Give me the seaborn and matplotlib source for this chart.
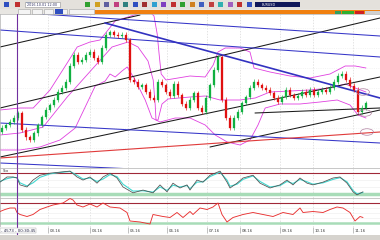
import matplotlib
matplotlib.use("Agg")
import matplotlib.pyplot as plt
from matplotlib.patches import Rectangle, Ellipse
import pandas as pd
import seaborn as sns

sns.set_style("white")
plt.rcParams['font.family'] = ['DejaVu Sans']

# ---------------- data ----------------
first_open = 1.036
closes = [1.040, 1.043, 1.046, 1.050, 1.055, 1.038, 1.031, 1.028, 1.035, 1.043,
          1.051, 1.058, 1.063, 1.068, 1.076, 1.080, 1.086, 1.102, 1.113, 1.106,
          1.108, 1.113, 1.116, 1.110, 1.106, 1.120, 1.133, 1.136, 1.133, 1.132,
          1.133, 1.128, 1.088, 1.086, 1.081, 1.083, 1.076, 1.070, 1.068, 1.086,
          1.083, 1.076, 1.072, 1.084, 1.073, 1.064, 1.060, 1.068, 1.075, 1.060,
          1.056, 1.070, 1.083, 1.098, 1.111, 1.068, 1.050, 1.040, 1.050, 1.056,
          1.065, 1.071, 1.080, 1.086, 1.083, 1.080, 1.078, 1.075, 1.070, 1.066,
          1.071, 1.078, 1.073, 1.070, 1.072, 1.076, 1.073, 1.078, 1.073, 1.076,
          1.078, 1.076, 1.080, 1.086, 1.092, 1.094, 1.088, 1.082, 1.078, 1.056,
          1.060, 1.065]

upper_days = [-0.5, 4.5, 7.8, 12, 16.3, 18.8, 22, 24.5, 28.3, 31.5, 34.5, 37, 38, 38.8,
              39.3, 39.8, 41, 47, 50.8, 52.8, 54, 55.8, 59.5, 62, 63, 67, 72, 77, 82,
              85.8, 88.3, 91]
upper_vals = [1.058, 1.060, 1.060, 1.078, 1.105, 1.121, 1.126, 1.128, 1.147, 1.151, 1.155,
              1.156, 1.152, 1.134, 1.113, 1.094, 1.088, 1.092, 1.091, 1.103, 1.116, 1.120,
              1.120, 1.116, 1.100, 1.096, 1.092, 1.090, 1.094, 1.102, 1.102, 1.100]

mid_days = [-0.5, 4.5, 10.3, 16.3, 22.8, 27.5, 31.5, 34, 36.5, 37.8, 38.3, 38.5, 39, 40,
            41.5, 47, 50.8, 54.5, 59.5, 63.3, 67, 72, 77, 82, 85.8, 88.3, 91]
mid_vals = [1.033, 1.035, 1.041, 1.071, 1.100, 1.121, 1.126, 1.121, 1.107, 1.088, 1.063,
            1.048, 1.048, 1.064, 1.069, 1.071, 1.072, 1.068, 1.068, 1.070, 1.076, 1.077,
            1.078, 1.080, 1.084, 1.080, 1.076]

lower_days = [-0.5, 4.5, 9.5, 14.5, 18.3, 23.3, 25.8, 27, 28.3, 30, 31.3, 33.3, 35.8, 37.5,
              39.5, 43.3, 47, 50.8, 53.3, 56.3, 59.5, 62, 64, 65.8, 69.5, 74.5, 79.5, 83.8,
              87, 89, 91]
lower_vals = [1.018, 1.018, 1.021, 1.028, 1.040, 1.082, 1.087, 1.094, 1.091, 1.097, 1.101,
              1.088, 1.068, 1.050, 1.046, 1.050, 1.050, 1.043, 1.033, 1.026, 1.023, 1.028,
              1.043, 1.060, 1.064, 1.064, 1.066, 1.068, 1.063, 1.053, 1.050]

# trend lines: (day0, price0, day1, price1)
black_lines = [(-0.5, 1.121, 34.5, 1.153),
               (-0.5, 1.060, 94.5, 1.150),
               (-0.5, 1.011, 94.5, 1.091),
               (63.25, 1.055, 94.5, 1.060),
               (52, 1.021, 94.5, 1.058)]
blue_lines = [(9.5, 1.154, 94.5, 1.132),
              (-0.5, 1.138, 94.5, 1.111),
              (-0.5, 1.045, 94.5, 1.025),
              (-0.5, 1.005, 94.5, 0.988)]
blue_thick_line = (25.75, 1.145, 94.5, 1.070)
red_line = (-0.5, 1.010, 94.5, 1.036)
marked_points = [(90.25, 1.076), (90.75, 1.055), (91.25, 1.036)]
cursor_day = 3.75

stoch_days = [-0.5, 1.25, 2.75, 3.75, 4.5, 6.25, 7.75, 9.5, 12, 14.5, 17, 18.75, 20.25, 22,
              23.75, 25.25, 27, 28.75, 30.25, 32.75, 35.25, 37.75, 39.5, 41.25, 42.75, 44.5,
              46.25, 47, 48.75, 50.25, 52, 54.5, 56.25, 57, 58.75, 60.25, 62.75, 64.5, 67,
              69.5, 71.25, 72.75, 74.5, 76.25, 77.75, 80.25, 82.75, 84.5, 86.25, 87.75,
              88.75, 90.25]
stoch_main = [54, 69, 69, 66, 46, 40, 60, 74, 80, 83, 86, 69, 60, 69, 51, 69, 80, 66, 40, 23,
              31, 23, 46, 26, 51, 37, 46, 31, 60, 54, 74, 86, 54, 37, 51, 66, 74, 51, 37, 46,
              60, 46, 66, 51, 46, 54, 66, 69, 51, 26, 17, 26]
stoch_signal = [56, 64, 68, 67, 52, 43, 52, 68, 78, 82, 85, 74, 63, 66, 56, 63, 76, 70, 48, 28,
                29, 25, 40, 30, 45, 40, 44, 35, 54, 55, 70, 83, 60, 42, 48, 62, 72, 56, 40, 44,
                56, 50, 62, 55, 48, 52, 62, 67, 55, 30, 20, 24]

osc2_days = [-0.5, 0.75, 2, 3.25, 3.75, 4.5, 6.25, 7.75, 9.5, 11.25, 12.75, 15.25, 17, 17.75,
             18.75, 20.25, 22, 23.75, 25.25, 27, 29.5, 31.25, 32, 34.5, 37, 37.75, 40.25, 42,
             43.75, 45.25, 47, 47.75, 49.5, 51.25, 52.75, 54, 55, 56.25, 57.75, 60.25, 62.75,
             65.25, 67.75, 70.25, 72.75, 74.5, 75.25, 77.75, 80.25, 82, 83.75, 85.25, 87,
             88.25, 89.5, 90.25]
osc2_vals = [53, 57, 60, 60, 51, 47, 43, 47, 57, 62, 66, 70, 79, 76, 66, 62, 68, 62, 70, 62,
             60, 51, 34, 32, 28, 47, 43, 41, 51, 41, 53, 47, 60, 57, 62, 70, 47, 32, 41, 47,
             51, 47, 43, 51, 47, 60, 51, 53, 51, 57, 62, 60, 51, 34, 43, 41]

month_days = [11.5, 22, 31.5, 41.25, 51.25, 59.5, 69.5, 77.75, 87.75]
month_labels = ["03.16", "04.16", "05.16", "06.16", "07.16", "08.16", "09.16", "10.16", "11.16"]

# ---------------- figure ----------------
W, H = 380, 240
fig = plt.figure(figsize=(3.8, 2.4), dpi=100, facecolor='#d6d3ce')


def ax_at(y0, y1):
    ax = fig.add_axes([0, 1 - y1 / H, 1, (y1 - y0) / H])
    ax.set_facecolor('white')
    ax.set_xlim(-0.5, 94.5)
    ax.set_xticks([])
    ax.set_yticks([])
    for s in ax.spines.values():
        s.set_color('#b0b0b0')
        s.set_linewidth(0.5)
    for d in month_days:
        ax.axvline(d, color='#d8d8d8', lw=0.5, ls=(0, (2, 2)), zorder=0)
    ax.axvline(cursor_day, color='#7030a0', lw=0.8, zorder=5)
    return ax


def frect(x, y, w, h, color, **kw):
    fig.add_artist(Rectangle((x / W, 1 - (y + h) / H), w / W, h / H,
                             transform=fig.transFigure, facecolor=color,
                             edgecolor=kw.pop('ec', 'none'), lw=0.4, **kw))


# toolbar
frect(0, 0, 380, 9, '#e4e1dc')
icon_cols = ['#3050c0', '#c03030', '#4070d0', '#30a030', '#d0a020', '#6060a0', '#c04080',
             '#308080', '#3050c0', '#a03030', '#30a0d0', '#8040c0', '#c03030', '#30a030',
             '#d08020', '#4060c0', '#c04040', '#30b0b0', '#a060c0', '#c03030', '#3050c0']
for i, c in enumerate(icon_cols):
    frect(4 + i * 11 if i < 3 else 85 + (i - 3) * 9.5, 2.5, 5, 4, c)
frect(25, 2, 35, 5, 'white', ec='#909090')
fig.text(27 / W, 1 - 4.6 / H, "2016.10.01 12:00", fontsize=2.4, color='#303060', va='center')
frect(255, 2, 45, 5, '#10185a')
fig.text(262 / W, 1 - 4.6 / H, "EURUSD", fontsize=2.4, color='white', va='center')
# tab bar
frect(0, 9, 380, 5, '#e8e6e2')
for x0, w in [(18, 12), (32, 10), (44, 9), (55, 12), (69, 25)]:
    frect(x0, 9.5, w, 4, '#f4f4f4', ec='#a0a0a0')
frect(55, 9.5, 8, 4, '#3050c0')
frect(95, 10, 285, 4, '#f08010')
frect(335, 10.5, 6, 3, '#30a060')
frect(342, 10.5, 12, 3, '#30b030')
frect(355, 10.5, 9, 3, '#d02020')
frect(365, 10.5, 15, 3, '#d0d0d0')
# bottom bar
frect(0, 235, 380, 5, '#d6d3ce')

# ---------------- main chart ----------------
ax = ax_at(14, 168)
ax.set_ylim(1.000, 1.154)
for lv in [1.02, 1.04, 1.06, 1.08, 1.10, 1.12, 1.14]:
    ax.axhline(lv, color='#ececec', lw=0.4, ls=(0, (2, 2)), zorder=0)

opens = [first_open] + closes[:-1]
days = list(range(len(closes)))
cdf = pd.DataFrame({'day': days, 'open': opens, 'close': closes})
cdf['up'] = cdf['close'] >= cdf['open']
cdf['lo'] = cdf[['open', 'close']].min(axis=1)
cdf['hi'] = cdf[['open', 'close']].max(axis=1)
wick = 0.0025
for up, col in [(True, '#10b040'), (False, '#e01010')]:
    sub = cdf[cdf['up'] == up]
    ax.vlines(sub['day'], sub['lo'] - wick, sub['hi'] + wick, color=col, lw=0.45, zorder=3)
    ax.bar(sub['day'], (sub['hi'] - sub['lo']).clip(lower=0.0008), bottom=sub['lo'],
           width=0.48, color=col, edgecolor=col, lw=0.2, zorder=4)

band_col = '#e040e0'
for dd, vv in [(upper_days, upper_vals), (mid_days, mid_vals), (lower_days, lower_vals)]:
    sns.lineplot(x=dd, y=vv, ax=ax, color=band_col, lw=0.6, sort=False, estimator=None, zorder=2)

for (d0, p0, d1, p1) in black_lines:
    sns.lineplot(x=[d0, d1], y=[p0, p1], ax=ax, color='#1a1a1a', lw=0.75, zorder=2)
for (d0, p0, d1, p1) in blue_lines:
    sns.lineplot(x=[d0, d1], y=[p0, p1], ax=ax, color='#3636c8', lw=0.75, zorder=2)
d0, p0, d1, p1 = blue_thick_line
sns.lineplot(x=[d0, d1], y=[p0, p1], ax=ax, color='#3232c0', lw=1.2, zorder=2)
d0, p0, d1, p1 = red_line
sns.lineplot(x=[d0, d1], y=[p0, p1], ax=ax, color='#e03a3a', lw=0.8, zorder=2)
for (dx, py) in marked_points:
    ax.add_patch(Ellipse((dx, py), 3.2, 0.0065, fill=False, edgecolor='#b080a0', lw=0.5, zorder=6))
ax.set_xlim(-0.5, 94.5)
ax.set_xlabel(''); ax.set_ylabel('')

# ---------------- oscillator 1 ----------------
ax1 = ax_at(168, 198)
ax1.set_ylim(8, 95)
ax1.axhline(20, color='#a8dcb8', lw=2.5, zorder=1)
ax1.axhline(80, color='#a02838', lw=0.8, zorder=1)
for lv in [40, 60]:
    ax1.axhline(lv, color='#ececec', lw=0.4, zorder=0)
sns.lineplot(x=stoch_days, y=stoch_signal, ax=ax1, color='#40d8d0', lw=0.8, zorder=3)
sns.lineplot(x=stoch_days, y=stoch_main, ax=ax1, color='#505050', lw=0.55, zorder=4)
ax1.set_xlim(-0.5, 94.5)
ax1.set_xlabel(''); ax1.set_ylabel('')
ax1.text(0.3, 92, "Sto", fontsize=2.6, color='#404040', va='top')

# ---------------- oscillator 2 ----------------
ax2 = ax_at(198, 227)
ax2.set_ylim(22, 80)
ax2.axhline(30, color='#a8dcb8', lw=1.8, zorder=1)
ax2.axhline(70, color='#a02838', lw=0.8, zorder=1)
for lv in [40, 50, 60]:
    ax2.axhline(lv, color='#ececec', lw=0.4, zorder=0)
sns.lineplot(x=osc2_days, y=osc2_vals, ax=ax2, color='#e83030', lw=0.65, zorder=3)
ax2.set_xlim(-0.5, 94.5)
ax2.set_xlabel(''); ax2.set_ylabel('')

# ---------------- time axis ----------------
axt = fig.add_axes([0, 1 - 235 / H, 1, 8 / H])
axt.set_facecolor('white')
axt.set_xlim(-0.5, 94.5)
axt.set_ylim(0, 1)
axt.set_xticks([]); axt.set_yticks([])
for s in axt.spines.values():
    s.set_visible(False)
for d, lab in zip(month_days, month_labels):
    axt.vlines(d, 0.25, 0.95, color='#909090', lw=0.4)
    axt.text(d + 0.4, 0.55, lab, fontsize=2.8, color='#404040', va='center', ha='left')
axt.axvline(cursor_day, color='#7030a0', lw=0.8)
axt.text(-0.3, 0.55, "- 4573 - 00:30:45", fontsize=2.9, color='#202040', va='center',
         ha='left', bbox=dict(facecolor='white', edgecolor='#a0a0a0', lw=0.3, pad=0.4))

fig.savefig("out.png", dpi=100, facecolor=fig.get_facecolor())
